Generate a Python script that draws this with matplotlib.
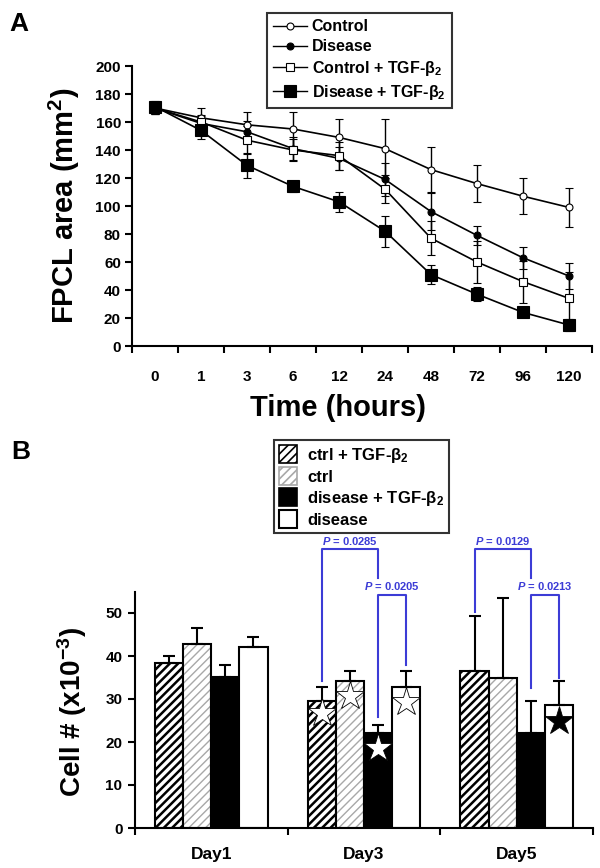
import numpy as np
import matplotlib.pyplot as plt
from matplotlib.lines import Line2D
from matplotlib.patches import Patch

plt.rcParams['font.family'] = ['Liberation Sans', 'DejaVu Sans']
plt.rcParams['font.weight'] = 'bold'
plt.rcParams['mathtext.fontset'] = 'custom'
plt.rcParams['mathtext.rm'] = 'Liberation Sans:bold'
plt.rcParams['mathtext.bf'] = 'Liberation Sans:bold'
plt.rcParams['mathtext.it'] = 'Liberation Sans:italic:bold'
plt.rcParams['mathtext.default'] = 'bf'
plt.rcParams['hatch.linewidth'] = 1.2

# ---- panel A data (FPCL area, mm2) ----
times = ['0', '1', '3', '6', '12', '24', '48', '72', '96', '120']
control = [170, 163, 158, 155, 149, 141, 126, 116, 107, 99]
control_err = [4, 7, 9, 12, 13, 21, 16, 13, 13, 14]
disease = [170, 159, 153, 141, 134, 119, 96, 79, 63, 50]
disease_err = [4, 5, 8, 8, 8, 12, 13, 7, 8, 9]
ctrl_tgf = [170, 160, 147, 140, 136, 112, 77, 60, 46, 34]
ctrl_tgf_err = [4, 5, 10, 8, 10, 10, 12, 15, 15, 19]
dis_tgf = [171, 154, 129, 114, 103, 82, 51, 37, 24, 15]
dis_tgf_err = [4, 6, 9, 4, 7, 11, 7, 5, 3, 4]

# ---- panel B data (cell number x10^-3) ----
days = ['Day1', 'Day3', 'Day5']
b_ctrl_tgf = [38.4, 29.6, 36.4]
b_ctrl_tgf_err = [1.7, 3.2, 12.8]
b_ctrl = [42.8, 34.2, 35.0]
b_ctrl_err = [3.7, 2.3, 18.4]
b_dis_tgf = [35.2, 22.0, 22.0]
b_dis_tgf_err = [2.8, 1.9, 7.6]
b_dis = [42.2, 32.7, 28.6]
b_dis_err = [2.2, 3.9, 5.6]

# stars: (day index, bar index, y, fill)
stars = [(1, 0, 26.8, 'white'), (1, 1, 30.8, 'white'), (1, 2, 18.6, 'white'),
         (1, 3, 29.2, 'white'), (2, 3, 24.9, 'black')]
# p-value brackets: (day, left bar, right bar, top, left end, right end, text)
brackets = [(1, 0, 2, 64.8, 34.3, 58.2, '0.0285'),
            (1, 2, 3, 54.3, 25.7, 37.8, '0.0205'),
            (2, 0, 2, 64.8, 50.2, 58.2, '0.0129'),
            (2, 2, 3, 54.3, 32.5, 34.9, '0.0213')]

blue = '#3c3cd6'

fig = plt.figure(figsize=(6, 8.68), dpi=100)

# ================= panel A =================
axA = fig.add_axes([132/600, 1-346/868, 460/600, 280/868])
x = np.arange(len(times))
seriesA = [
    (control, control_err, 'o', 'white', 5, 'Control'),
    (disease, disease_err, 'o', 'black', 5, 'Disease'),
    (ctrl_tgf, ctrl_tgf_err, 's', 'white', 6, 'Control + TGF-β$_2$'),
    (dis_tgf, dis_tgf_err, 's', 'black', 8, 'Disease + TGF-β$_2$'),
]
handlesA = []
for vals, errs, mk, fc, ms, lab in seriesA:
    axA.errorbar(x, vals, yerr=errs, color='black', lw=1.2, marker=mk, mfc=fc,
                 mec='black', ms=ms, mew=0.8, capsize=3, elinewidth=1, capthick=1)
    handlesA.append(Line2D([], [], color='black', lw=1, marker=mk, mfc=fc,
                           mec='black', ms=ms, mew=0.8))

axA.set_xlim(-0.5, 9.5)
axA.set_ylim(0, 200)
axA.set_yticks(range(0, 201, 20))
axA.set_xticks(np.arange(-0.5, 10, 1))
axA.set_xticklabels([])
axA.set_xticks(x, minor=True)
axA.set_xticklabels(times, minor=True)
for s in ['top', 'right']:
    axA.spines[s].set_visible(False)
for s in ['left', 'bottom']:
    axA.spines[s].set_linewidth(1.5)
axA.tick_params(which='major', direction='out', length=5, width=1.5, labelsize=11, pad=3)
axA.tick_params(axis='x', which='minor', length=0, pad=17, labelsize=11)

legA = axA.legend(handlesA, [s[5] for s in seriesA], loc='upper left',
                  bbox_to_anchor=(267/600, 1-13/868), bbox_transform=fig.transFigure,
                  frameon=True, fancybox=False, edgecolor='black', fontsize=11.5,
                  handlelength=2.1, handletextpad=0.3, labelspacing=0.3,
                  borderpad=0.4, borderaxespad=0)
legA.get_frame().set_linewidth(1.5)

fig.text(64/600, 1-206/868, 'FPCL area (mm$^{2}$)', rotation=90, ha='center',
         va='center', fontsize=21)
fig.text(338/600, 1-408/868, 'Time (hours)', ha='center', va='center', fontsize=21)
fig.text(19/600, 1-24/868, 'A', ha='center', va='center', fontsize=19)

# ================= panel B =================
axB = fig.add_axes([135/600, 1-828/868, 458/600, 236.5/868])
g = np.arange(len(days))
w = 0.184
offs = (np.arange(4) - 1.5) * w

# ctrl + TGF-b2 : dense dark hatch
dark = axB.bar(g + offs[0], b_ctrl_tgf, w, color='white', hatch='////', edgecolor='black', lw=1.5)
# ctrl : light grey hatch
light = axB.bar(g + offs[1], b_ctrl, w, color='white', hatch='////', edgecolor='#a8a8a8', lw=0)
axB.bar(g + offs[1], b_ctrl, w, fill=False, edgecolor='black', lw=1.5)
for p in dark:
    if hasattr(p, 'set_hatch_linewidth'):
        p.set_hatch_linewidth(1.8)
for p in light:
    if hasattr(p, 'set_hatch_linewidth'):
        p.set_hatch_linewidth(1.0)
# disease + TGF-b2 : black
axB.bar(g + offs[2], b_dis_tgf, w, color='black', edgecolor='black', lw=1.5)
# disease : white
axB.bar(g + offs[3], b_dis, w, color='white', edgecolor='black', lw=1.5)

for i, (vals, errs) in enumerate([(b_ctrl_tgf, b_ctrl_tgf_err), (b_ctrl, b_ctrl_err),
                                  (b_dis_tgf, b_dis_tgf_err), (b_dis, b_dis_err)]):
    axB.errorbar(g + offs[i], vals, yerr=[np.zeros(len(errs)), errs], fmt='none',
                 ecolor='black', elinewidth=1.5, capsize=4, capthick=1.5)

for d, b, yv, fc in stars:
    axB.plot(d + offs[b], yv, marker='*', ms=21, mfc=fc, mec='black', mew=0.6,
             zorder=5, clip_on=False)

for d, bl, br, top, lb, rb, p in brackets:
    xl, xr = d + offs[bl], d + offs[br]
    axB.plot([xl, xl, xr, xr], [lb, top, top, rb], color=blue, lw=1.5, clip_on=False)
    axB.text((xl + xr) / 2, top + 1.9, '$\\mathit{P}$ = ' + p, color=blue,
             ha='center', va='center', fontsize=8)

axB.set_xlim(-0.5, 2.5)
axB.set_ylim(0, 55)
axB.set_yticks(range(0, 51, 10))
axB.set_xticks([-0.5, 0.5, 1.5, 2.5])
axB.set_xticklabels([])
axB.set_xticks(g, minor=True)
axB.set_xticklabels(days, minor=True)
for s in ['top', 'right']:
    axB.spines[s].set_visible(False)
for s in ['left', 'bottom']:
    axB.spines[s].set_linewidth(1.5)
axB.tick_params(which='major', direction='out', length=5, width=1.5, labelsize=11, pad=4)
axB.tick_params(axis='x', which='minor', length=0, pad=14, labelsize=12.5)

handlesB = [Patch(facecolor='white', hatch='////', edgecolor='black', lw=1.2),
            Patch(facecolor='white', hatch='////', edgecolor='#a8a8a8', lw=1.2),
            Patch(facecolor='black', edgecolor='black', lw=1.2),
            Patch(facecolor='white', edgecolor='black', lw=1.5)]
labelsB = ['ctrl + TGF-β$_2$', 'ctrl', 'disease + TGF-β$_2$', 'disease']
legB = axB.legend(handlesB, labelsB, loc='upper left',
                  bbox_to_anchor=(274/600, 1-440/868), bbox_transform=fig.transFigure,
                  frameon=True, fancybox=False, edgecolor='black', fontsize=12,
                  handlelength=1.1, handleheight=1.3, handletextpad=0.6,
                  labelspacing=0.15, borderpad=0.3, borderaxespad=0)
legB.get_frame().set_linewidth(1.5)

fig.text(72/600, 1-712/868, 'Cell # (x10$^{-3}$)', rotation=90, ha='center',
         va='center', fontsize=20)
fig.text(21/600, 1-452/868, 'B', ha='center', va='center', fontsize=19)

fig.savefig('out.png', dpi=100)
